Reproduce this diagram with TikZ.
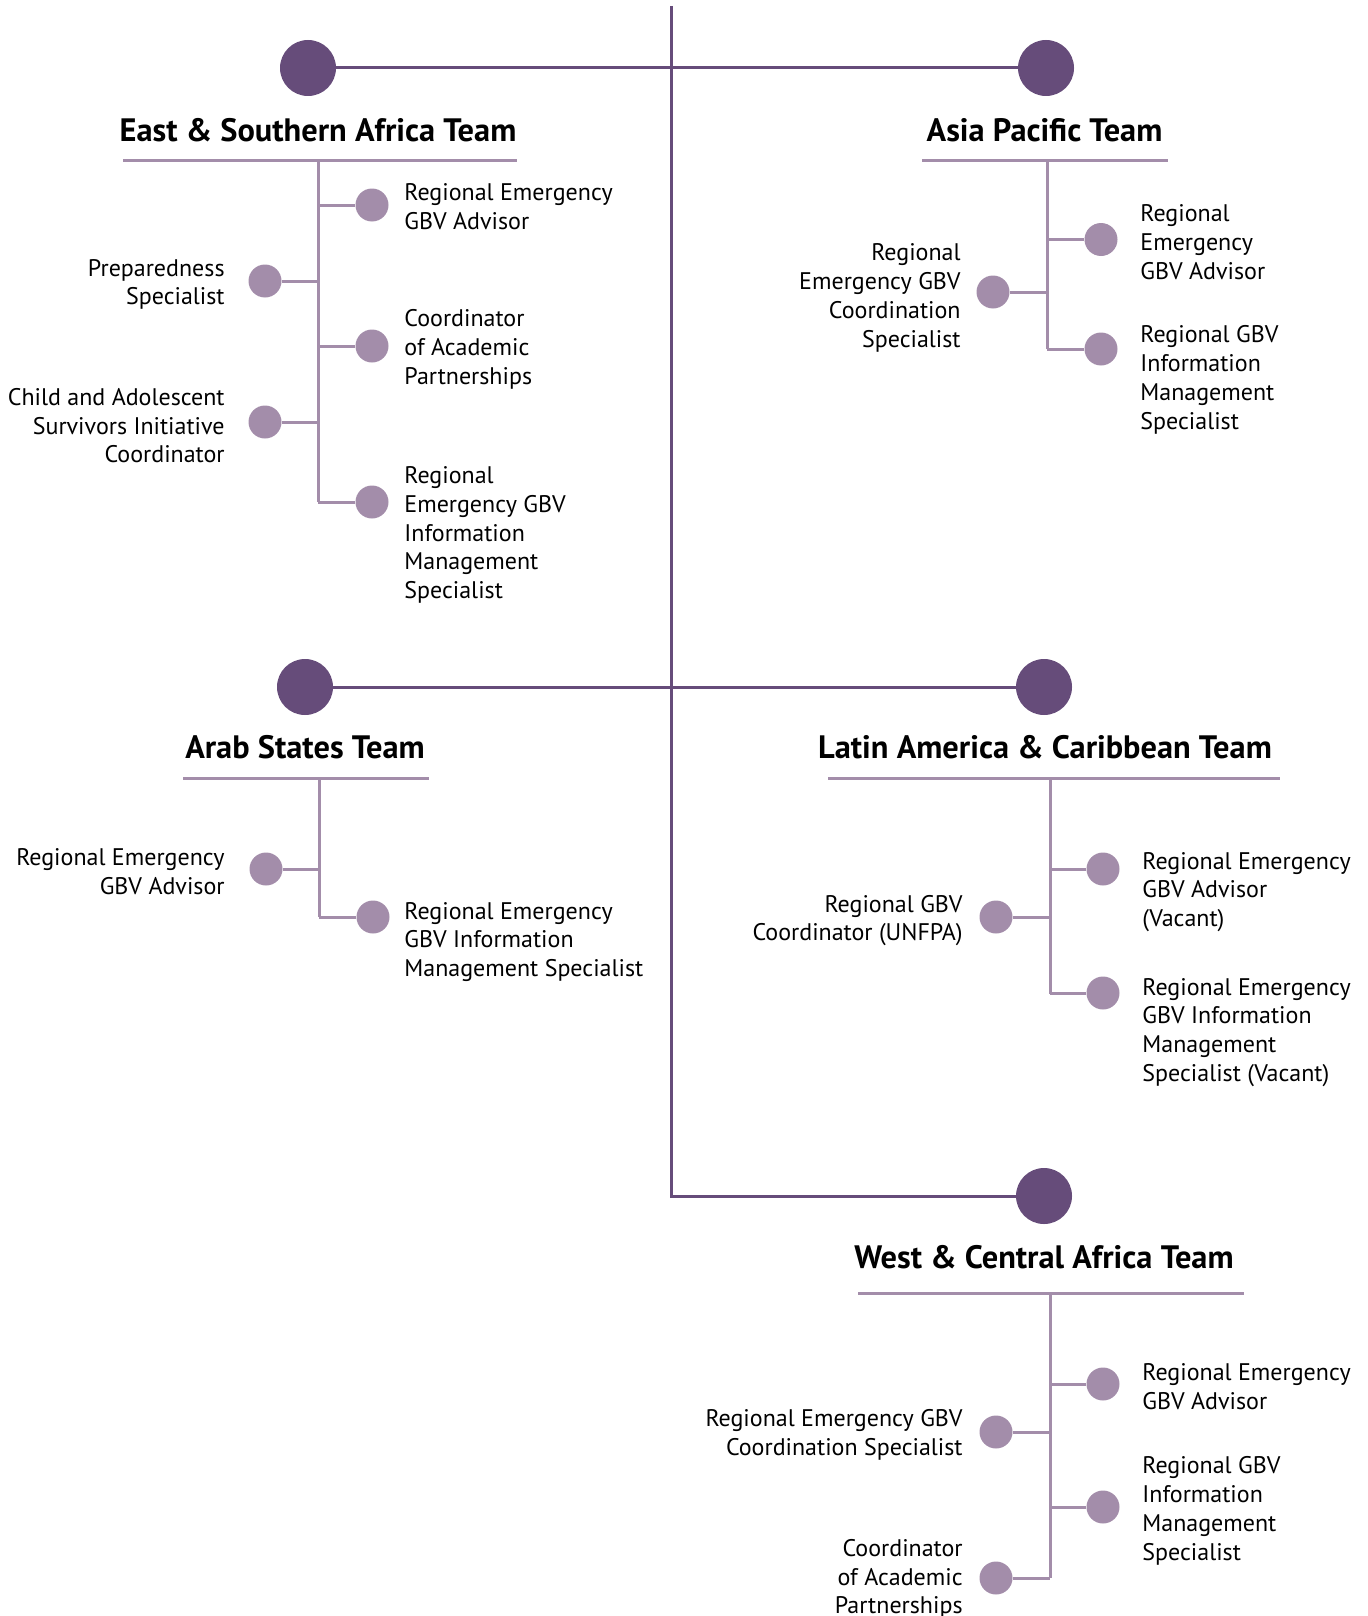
\documentclass[tikz,border=0pt]{standalone}
\usepackage{fontspec}
\setmainfont{PT Sans}
\definecolor{dark}{HTML}{664C7A}
\definecolor{light}{HTML}{A38DAA}
\begin{document}
\begin{tikzpicture}[x=0.5pt,y=-0.5pt,
  bigdot/.style={circle,fill=dark,inner sep=0,minimum size=28pt},
  dot/.style={circle,fill=light,inner sep=0,minimum size=16.5pt},
  mainln/.style={draw=dark,line width=1.5pt},
  subln/.style={draw=light,line width=1.5pt},
  head/.style={font=\fontsize{16.2}{19}\selectfont\bfseries,anchor=base,inner sep=0},
  rlbl/.style={font=\fontsize{12}{14.4}\selectfont,align=left,anchor=west,inner sep=0,yshift=-1pt},
  llbl/.style={font=\fontsize{12}{14.4}\selectfont,align=right,anchor=east,inner sep=0,yshift=-1pt}]
\useasboundingbox (0,0) rectangle (1367,1616);
% main structure
\coordinate (top) at (671,6);
\coordinate (bot) at (671,1196);
\node[bigdot] (esa) at (308,68) {};
\node[bigdot] (ap) at (1046,68) {};
\node[bigdot] (arab) at (305,687) {};
\node[bigdot] (lac) at (1044,687) {};
\node[bigdot] (wca) at (1044,1196) {};
\draw[mainln] (esa) -- (ap);
\draw[mainln] (arab) -- (lac);
\draw[mainln] (top) -- (bot) -- (wca);

% ===== East & Southern Africa =====
\node[head] (esah) at (318,141.5) {East \& Southern Africa Team};
\coordinate (esaul) at (123,160);
\coordinate (esaur) at (517,160);
\coordinate (esat) at (318,160);
\coordinate (esab) at (318,502);
\draw[subln] (esaul) -- (esaur);
\draw[subln] (esat) -- (esab);
\node[dot] (esa1) at (372,205) {};
\node[dot] (esa2) at (265,281) {};
\node[dot] (esa3) at (372,346) {};
\node[dot] (esa4) at (265,422) {};
\node[dot] (esa5) at (372,502) {};
\draw[subln] (esa1) -- (esa1 -| esat);
\draw[subln] (esa2) -- (esa2 -| esat);
\draw[subln] (esa3) -- (esa3 -| esat);
\draw[subln] (esa4) -- (esa4 -| esat);
\draw[subln] (esa5) -- (esab);
\node[rlbl] (esat1) at (404,205) {Regional Emergency\\GBV Advisor};
\node[llbl] (esat2) at (225,282.5) {Preparedness\\Specialist};
\node[rlbl] (esat3) at (404,347.4) {Coordinator\\of Academic\\Partnerships};
\node[llbl] (esat4) at (225,423.7) {Child and Adolescent\\Survivors Initiative\\Coordinator};
\node[rlbl] (esat5) at (404,533) {Regional\\Emergency GBV\\Information\\Management\\Specialist};

% ===== Asia Pacific =====
\node[head] (aph) at (1044.5,141.5) {Asia Pacific Team};
\coordinate (apul) at (922,160);
\coordinate (apur) at (1168,160);
\coordinate (apt) at (1047,160);
\coordinate (apb) at (1047,349);
\draw[subln] (apul) -- (apur);
\draw[subln] (apt) -- (apb);
\node[dot] (ap1) at (1101,239.5) {};
\node[dot] (ap2) at (993,292) {};
\node[dot] (ap3) at (1101,349) {};
\draw[subln] (ap1) -- (ap1 -| apt);
\draw[subln] (ap2) -- (ap2 -| apt);
\draw[subln] (ap3) -- (apb);
\node[rlbl] (apt1) at (1140,240) {Regional\\Emergency\\GBV Advisor};
\node[llbl] (apt2) at (961,296) {Regional\\Emergency GBV\\Coordination\\Specialist};
\node[rlbl] (apt3) at (1140,378) {Regional GBV\\Information\\Management\\Specialist};

% ===== Arab States =====
\node[head] (arabh) at (305,758) {Arab States Team};
\coordinate (arabul) at (183,778);
\coordinate (arabur) at (429,778);
\coordinate (arabt) at (319,778);
\coordinate (arabb) at (319,917);
\draw[subln] (arabul) -- (arabur);
\draw[subln] (arabt) -- (arabb);
\node[dot] (arab1) at (266,869) {};
\node[dot] (arab2) at (373,917) {};
\draw[subln] (arab1) -- (arab1 -| arabt);
\draw[subln] (arab2) -- (arabb);
\node[llbl] (arabt1) at (225,869.6) {Regional Emergency\\GBV Advisor};
\node[rlbl] (arabt2) at (404,940) {Regional Emergency\\GBV Information\\Management Specialist};

% ===== Latin America & Caribbean =====
\node[head] (lach) at (1045,758) {Latin America \& Caribbean Team};
\coordinate (lacul) at (828,778);
\coordinate (lacur) at (1280,778);
\coordinate (lact) at (1050,778);
\coordinate (lacb) at (1050,994);
\draw[subln] (lacul) -- (lacur);
\draw[subln] (lact) -- (lacb);
\node[dot] (lac1) at (1103,869) {};
\node[dot] (lac2) at (996,917) {};
\node[dot] (lac3) at (1103,993) {};
\draw[subln] (lac1) -- (lac1 -| lact);
\draw[subln] (lac2) -- (lac2 -| lact);
\draw[subln] (lac3) -- (lac3 -| lact);
\node[rlbl] (lact1) at (1142,890) {Regional Emergency\\GBV Advisor\\(Vacant)};
\node[llbl] (lact2) at (963,918.6) {Regional GBV\\Coordinator (UNFPA)};
\node[rlbl] (lact3) at (1142,1030.5) {Regional Emergency\\GBV Information\\Management\\Specialist (Vacant)};

% ===== West & Central Africa =====
\node[head] (wcah) at (1044,1268) {West \& Central Africa Team};
\coordinate (wcaul) at (858,1293);
\coordinate (wcaur) at (1244,1293);
\coordinate (wcat) at (1050,1293);
\coordinate (wcab) at (1050,1578);
\draw[subln] (wcaul) -- (wcaur);
\draw[subln] (wcat) -- (wcab);
\node[dot] (wca1) at (1103,1384) {};
\node[dot] (wca2) at (996,1432) {};
\node[dot] (wca3) at (1103,1507) {};
\node[dot] (wca4) at (996,1578) {};
\draw[subln] (wca1) -- (wca1 -| wcat);
\draw[subln] (wca2) -- (wca2 -| wcat);
\draw[subln] (wca3) -- (wca3 -| wcat);
\draw[subln] (wca4) -- (wcab);
\node[rlbl] (wcat1) at (1142,1385) {Regional Emergency\\GBV Advisor};
\node[llbl] (wcat2) at (963,1433) {Regional Emergency GBV\\Coordination Specialist};
\node[rlbl] (wcat3) at (1142,1509) {Regional GBV\\Information\\Management\\Specialist};
\node[llbl] (wcat4) at (963,1577) {Coordinator\\of Academic\\Partnerships};
\end{tikzpicture}
\end{document}
